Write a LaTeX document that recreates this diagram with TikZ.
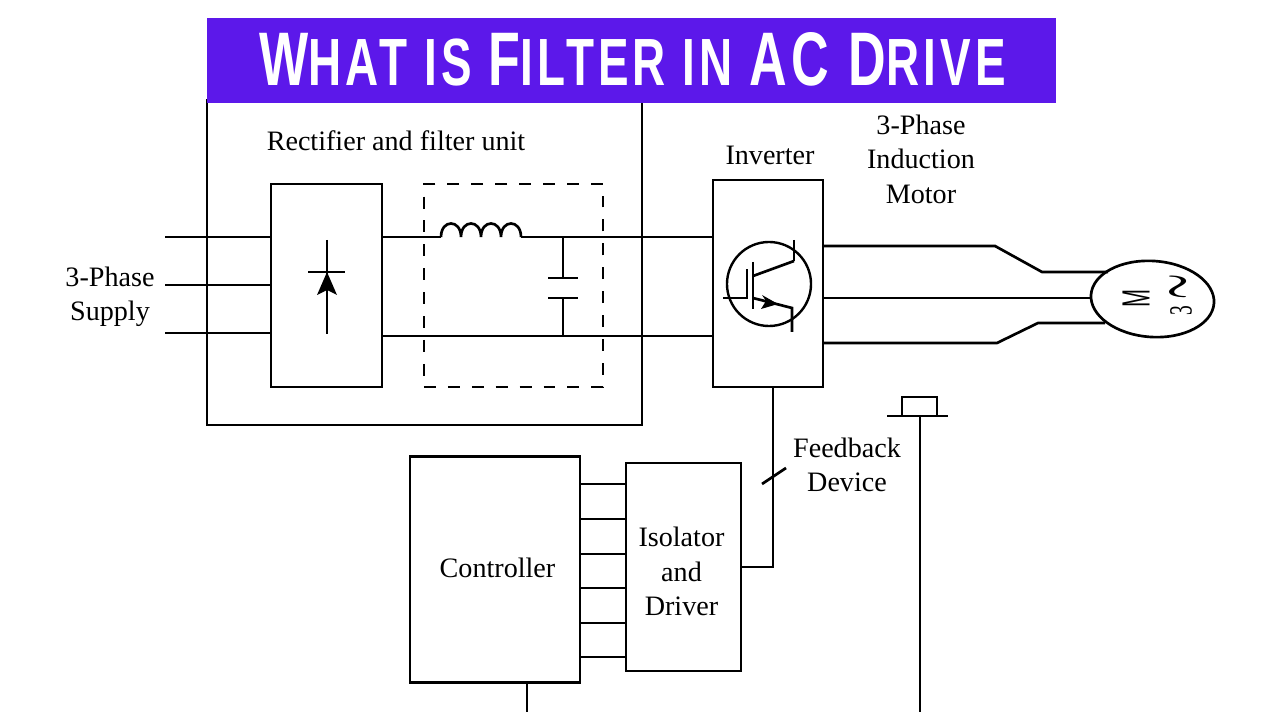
\documentclass[tikz,border=0pt]{standalone}
\usepackage{fontspec}
\usepackage{amsmath,amssymb}
\setmainfont{Liberation Serif}
\newfontfamily\titlefont[LetterSpace=9]{Liberation Sans}
\newfontfamily\motorfont{Liberation Sans}
\usetikzlibrary{shapes.geometric}
\definecolor{bannerblue}{HTML}{5C18EA}
\newcommand{\bigletter}[1]{{\fontsize{54}{60}\selectfont #1}}
\newcommand{\lblsize}{\fontsize{20}{24.5}\selectfont}
\tikzset{
  wire/.style={line width=1.9pt},
  unit/.style={draw, line width=1.9pt, inner sep=0pt},
  lbl/.style={inner sep=0pt, align=center, font=\lblsize},
}

\begin{document}
\begin{tikzpicture}[x=0.025cm, y=-0.025cm]
    \useasboundingbox (0,0) rectangle (1280,720);
    \fill[white] (0,0) rectangle (1280,720);
    % boxes
    \node[unit, minimum width=10.875cm, minimum height=8.125cm] (outer) at (424.5,262.5) {};
    \node[unit, minimum width=2.775cm, minimum height=5.075cm] (rectifier) at (326.5,285.5) {};
    \node[unit, dash pattern=on 8.5pt off 8.5pt, minimum width=4.475cm, minimum height=5.075cm] (filter) at (513.5,285.5) {};
    \node[unit, minimum width=2.75cm, minimum height=5.175cm] (inverter) at (768,283.5) {};
    \node[unit, minimum width=4.25cm, minimum height=5.65cm] (controller) at (495,569.5) {};
    \node[unit, minimum width=2.875cm, minimum height=5.2cm] (isolator) at (683.5,567) {};
    \node[unit, minimum width=0.875cm, minimum height=0.475cm] (button) at (919.5,406.5) {};
    \node[unit, ellipse, rotate=-4, minimum width=3.08cm, minimum height=1.9cm] (motor) at (1152.5,299) {};
    %
    \node[lbl] (rectlabel) at (396,141) {Rectifier and filter unit};
    \node[lbl] (invlabel) at (770,155) {Inverter};
    \node[lbl] (motorlabel) at (921,159) {3-Phase\\Induction\\Motor};
    \node[lbl] (supplylabel) at (110,297) {3-Phase\\Supply};
    \node[lbl] (fblabel) at (847,465) {Feedback\\Device};
    \node[lbl] (ctrllabel) at (497.5,568) {Controller};
    \node[lbl] (isolabel) at (681.5,571.5) {Isolator\\and\\Driver};
    \node[lbl, rotate=90] (mlabel) at (1136,298) {\scalebox{0.55}[1]{\motorfont\fontsize{28}{30}\selectfont M}};
    \node[lbl, rotate=90] (threelabel) at (1181,311) {\scalebox{0.6}[1]{\fontsize{23}{26}\selectfont 3}};
    \node[lbl, rotate=90] (simlabel) at (1181,287) {\fontsize{15}{18}\selectfont\scalebox{1.4}[3]{$\boldsymbol{\sim}$}};
    % supply side
    \coordinate (sup1) at (165,237);
    \coordinate (sup2) at (165,285);
    \coordinate (sup3) at (165,333);
    \draw[wire] (sup1) -- (sup1 -| rectifier.west);
    \draw[wire] (sup2) -- (sup2 -| rectifier.west);
    \draw[wire] (sup3) -- (sup3 -| rectifier.west);
    % dc bus with inductor
    \coordinate (ind1) at (441,237);
    \coordinate (ind2) at (521,237);
    \coordinate (bot1) at (382,336);
    \coordinate (capt) at (563,237);
    \coordinate (capb) at (563,336);
    \coordinate (plate1) at (563,278);
    \coordinate (plate2) at (563,298);
    \draw[wire] (ind1 -| rectifier.east) -- (ind1);
    \draw[wire] (ind1) .. controls (441,219) and (461,219) .. (461,237)
                .. controls (461,219) and (481,219) .. (481,237)
                .. controls (481,219) and (501,219) .. (501,237)
                .. controls (501,219) and (521,219) .. (ind2);
    \draw[wire] (ind2) -- (ind2 -| inverter.west);
    \draw[wire] (bot1 -| rectifier.east) -- (bot1 -| inverter.west);
    \draw[wire] (capt) -- (plate1);
    \draw[wire] (plate2) -- (capb);
    \draw[wire] (548,278) -- (578,278);
    \draw[wire] (548,298) -- (578,298);
    % diode
    \draw[wire] (327,240) -- (327,334);
    \draw[wire] (308,272) -- (345,272);
    \fill (327,272) -- (337,295) -- (327,290) -- (317,295) -- cycle;
    % igbt
    \node[draw, circle, line width=1.7pt, minimum size=2.1cm, inner sep=0pt] (igbt) at (769,284) {};
    \draw[wire] (723,298) -- (747,298) -- (747,269);
    \draw[wire] (753,262) -- (753,309);
    \draw[wire] (753,276) -- (794,261);
    \draw[wire] (794,240) -- (794,261);
    \draw[wire] (753,298) -- (792,308) -- (792,332);
    \fill (778,304) -- (761,309) -- (766,301) -- (762,295) -- cycle;
    % motor leads
    \coordinate (out1) at (823,246);
    \coordinate (out2) at (823,298);
    \coordinate (out3) at (823,343);
    \draw[wire] (out1) -- (995,246) -- (1042,272) -- (1108,272);
    \draw[wire] (out2) -- (motor.west |- out2);
    \draw[wire] (out3) -- (997,343) -- (1038,323) -- (1105,323);
    % feedback
    \coordinate (fbturn) at (773,567);
    \coordinate (tick1) at (762,484);
    \coordinate (tick2) at (786,468);
    \draw[wire] (inverter.south -| fbturn) -- (fbturn) -- (isolator.east |- fbturn);
    \draw[wire] (tick1) -- (tick2);
    % controller to isolator
    \draw[wire] (controller.east |- 0,484) -- (isolator.west |- 0,484);
    \draw[wire] (controller.east |- 0,519) -- (isolator.west |- 0,519);
    \draw[wire] (controller.east |- 0,554) -- (isolator.west |- 0,554);
    \draw[wire] (controller.east |- 0,588) -- (isolator.west |- 0,588);
    \draw[wire] (controller.east |- 0,623) -- (isolator.west |- 0,623);
    \draw[wire] (controller.east |- 0,657) -- (isolator.west |- 0,657);
    % lines leaving at the bottom
    \coordinate (ctrlout) at (527,712);
    \coordinate (btnout) at (920,712);
    \draw[wire] (controller.south -| ctrlout) -- (ctrlout);
    \draw[wire] (887,416) -- (948,416);
    \draw[wire] (button.south -| btnout) -- (btnout);
    % title
    \fill[bannerblue] (207,18) rectangle (1056,103);
    \node[inner sep=0pt, text=white] (title) at (632.5,59.5) {\scalebox{0.686}[1]{\titlefont\bfseries\fontsize{47.5}{60}\selectfont \bigletter{W}HAT IS \bigletter{F}ILTER IN \bigletter{AC D}RIVE}};
\end{tikzpicture}
\end{document}
